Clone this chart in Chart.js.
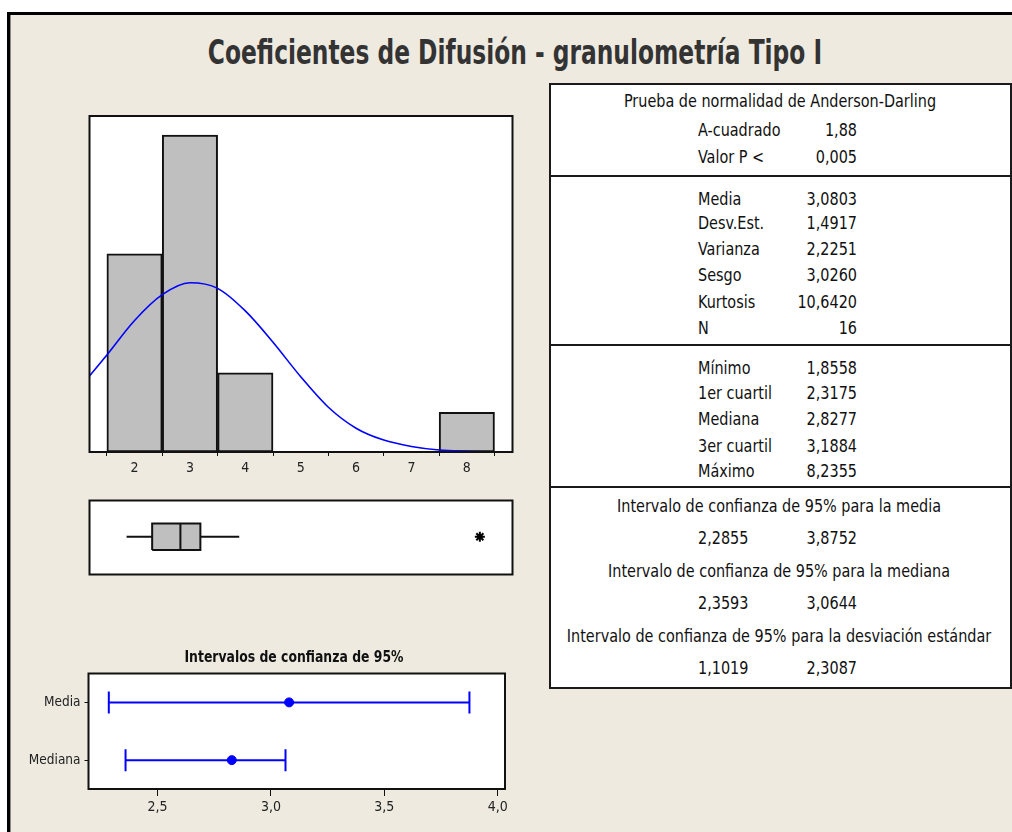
<!DOCTYPE html>
<html><head><meta charset="utf-8">
<script src="https://cdn.jsdelivr.net/npm/chart.js@4.4.1/dist/chart.umd.min.js"></script>
<style>
html,body{margin:0;padding:0;background:#fff;width:1012px;height:832px;overflow:hidden;}
#frame{position:absolute;left:7px;top:12px;width:1100px;height:900px;background:#EEEAE0;border-left:3px solid #000;border-top:3px solid #000;box-sizing:border-box;box-shadow:inset 1px 0 0 #8a8a8a;}
canvas{position:absolute;}
#table{position:absolute;left:549px;top:83px;width:463px;height:606px;background:#fff;border:2px solid #1a1a1a;box-sizing:border-box;}
.sep{position:absolute;left:549px;width:463px;height:2px;background:#1a1a1a;}
.t{position:absolute;width:0;height:0;}
.t span{position:absolute;left:0;top:0;white-space:nowrap;line-height:1;}
</style></head>
<body>
<div id="frame"></div>
<div id="table"></div>
<div class="sep" style="top:175px"></div>
<div class="sep" style="top:344px"></div>
<div class="sep" style="top:486px"></div>
<canvas id="hist" width="426" height="380" style="left:88px;top:115px"></canvas>
<canvas id="box" width="426" height="77" style="left:88px;top:499px"></canvas>
<canvas id="ci" width="520" height="192" style="left:0px;top:640px"></canvas>
<script>
// ---------- data ----------
const binCenters = [2, 3, 4, 5, 6, 7, 8];
const binCounts  = [5, 8, 2, 0, 0, 0, 1];
const histTicks  = [2, 3, 4, 5, 6, 7, 8];
const curveX = [1.186, 1.5, 2, 2.5, 3, 3.5, 4, 4.5, 5, 5.5, 6, 6.5, 7, 7.5, 8, 8.5, 8.7];
const curveY = [1.92, 2.45, 3.32, 3.97, 4.27, 4.13, 3.56, 2.77, 1.90, 1.13, 0.60, 0.30, 0.14, 0.05, 0.02, 0.005, 0.003];
const whiskerLow = 1.8558, q1 = 2.3175, median = 2.8277, q3 = 3.1884, whiskerHigh = 3.89;
const outliers = [8.2355];
const ciLabels   = ['Media', 'Mediana'];
const ciEstimate = [3.0803, 2.8277];
const ciLower    = [2.2855, 2.3593];
const ciUpper    = [3.8752, 3.0644];
const ciTicks    = [2.5, 3.0, 3.5, 4.0];

const titleText = 'Coeficientes de Difusión - granulometría Tipo I';
const ciTitle = 'Intervalos de confianza de 95%';
const adTitle = 'Prueba de normalidad de Anderson-Darling';
const adLabels = ['A-cuadrado', 'Valor P <'];
const adValues = ['1,88', '0,005'];
const momLabels = ['Media', 'Desv.Est.', 'Varianza', 'Sesgo', 'Kurtosis', 'N'];
const momValues = ['3,0803', '1,4917', '2,2251', '3,0260', '10,6420', '16'];
const quLabels = ['Mínimo', '1er cuartil', 'Mediana', '3er cuartil', 'Máximo'];
const quValues = ['1,8558', '2,3175', '2,8277', '3,1884', '8,2355'];
const ciTitles = ['Intervalo de confianza de 95% para la media',
                  'Intervalo de confianza de 95% para la mediana',
                  'Intervalo de confianza de 95% para la desviación estándar'];
const ciLows  = ['2,2855', '2,3593', '1,1019'];
const ciHighs = ['3,8752', '3,0644', '2,3087'];

// ---------- layout constants ----------
const FONT = '"DejaVu Sans Condensed","Liberation Sans Narrow","DejaVu Sans",sans-serif';
const X_MIN = 1.186, X_MAX = 8.825;
const BOX_LO = 0.33, BOX_HI = 0.69, BOX_MID = 0.51;

// ---------- text helpers ----------
function txt(str, x, y, align, font, color) {
  const d = document.createElement('div'); d.className = 't';
  d.style.left = x + 'px'; d.style.top = y + 'px';
  const s = document.createElement('span'); s.textContent = str;
  s.style.font = font; s.style.color = color || '#111';
  s.dataset.align = align;
  d.appendChild(s); document.body.appendChild(d);
  return s;
}
function scaleText(s, k) {
  const a = s.dataset.align;
  const tx = a === 'left' ? '0' : a === 'right' ? '-100%' : '-50%';
  s.style.transformOrigin = (a === 'left' ? 'left' : a === 'right' ? 'right' : 'center') + ' center';
  s.style.transform = 'translate(' + tx + ',-50%) scaleX(' + k + ')';
}

const title = txt(titleText, 515, 52, 'center', 'bold 33px ' + FONT, '#333');
scaleText(title, 614 / title.offsetWidth);
const cit = txt(ciTitle, 294, 657, 'center', 'bold 15px ' + FONT, '#111');
scaleText(cit, 219 / cit.offsetWidth);

const TF = '17px ' + FONT;
const tableSpans = [];
const head = txt(adTitle, 780, 101, 'center', TF); tableSpans.push(head);
const LX = 698, RX = 857;
const adY = [130, 157];
adLabels.forEach((l, i) => { tableSpans.push(txt(l, LX, adY[i], 'left', TF)); tableSpans.push(txt(adValues[i], RX, adY[i], 'right', TF)); });
const momY = [199, 223, 249, 275, 302, 328];
momLabels.forEach((l, i) => { tableSpans.push(txt(l, LX, momY[i], 'left', TF)); tableSpans.push(txt(momValues[i], RX, momY[i], 'right', TF)); });
const quY = [368, 393, 419, 446, 471];
quLabels.forEach((l, i) => { tableSpans.push(txt(l, LX, quY[i], 'left', TF)); tableSpans.push(txt(quValues[i], RX, quY[i], 'right', TF)); });
const ciTY = [506, 571, 636], ciVY = [538, 603, 668];
ciTitles.forEach((l, i) => {
  tableSpans.push(txt(l, 779, ciTY[i], 'center', TF));
  tableSpans.push(txt(ciLows[i], LX, ciVY[i], 'left', TF));
  tableSpans.push(txt(ciHighs[i], RX, ciVY[i], 'right', TF));
});
const tk = 312 / head.offsetWidth;
tableSpans.forEach(s => scaleText(s, tk));

// ---------- chart helpers ----------
const framePlugin = {
  id: 'frame',
  beforeDraw(c) { const a = c.chartArea, ctx = c.ctx; ctx.save(); ctx.fillStyle = '#fff'; ctx.fillRect(a.left, a.top, a.right - a.left, a.bottom - a.top); ctx.restore(); },
  afterDraw(c) { const a = c.chartArea, ctx = c.ctx; ctx.save(); ctx.strokeStyle = '#111'; ctx.lineWidth = 2; ctx.strokeRect(a.left, a.top, a.right - a.left, a.bottom - a.top); ctx.restore(); }
};
const base = { responsive: false, animation: false, devicePixelRatio: 1, events: [],
  plugins: { legend: { display: false }, tooltip: { enabled: false } } };

// ---------- histogram ----------
new Chart(document.getElementById('hist'), {
  type: 'bar',
  data: { datasets: [
    { type: 'line', data: curveX.map((x, i) => ({ x, y: curveY[i] })), borderColor: '#0000FF', borderWidth: 1.6,
      pointRadius: 0, cubicInterpolationMode: 'monotone', fill: false, order: 0 },
    { type: 'bar', data: binCenters.map((x, i) => ({ x, y: binCounts[i] ? binCounts[i] : null })),
      backgroundColor: '#BFBFBF', borderColor: '#111', borderWidth: 2, borderSkipped: false,
      barPercentage: 1, categoryPercentage: 1, grouped: false, order: 1 }
  ]},
  options: Object.assign({}, base, {
    layout: { autoPadding: false, padding: { left: 1.5, right: 1.5, top: 1, bottom: 0 } },
    scales: {
      x: { type: 'linear', min: X_MIN, max: X_MAX, offset: false,
        afterBuildTicks: s => { s.ticks = histTicks.map(v => ({ value: v })); },
        afterFit: s => { s.height = 43; },
        grid: { drawOnChartArea: false, drawTicks: true, tickLength: 4, color: '#111', lineWidth: 1 },
        border: { display: false },
        ticks: { font: { family: FONT, size: 14 }, color: '#222', padding: 4, maxRotation: 0, autoSkip: false } },
      y: { display: false, min: 0, max: 8.48 }
    }
  }),
  plugins: [framePlugin]
});

// ---------- boxplot ----------
const seg = (pts) => pts.map(p => ({ x: p[0], y: p[1] }));
new Chart(document.getElementById('box'), {
  type: 'scatter',
  data: { datasets: [
    { data: seg([[q1, BOX_LO], [q3, BOX_LO], [q3, BOX_HI], [q1, BOX_HI], [q1, BOX_LO]]), showLine: true, fill: 'shape',
      backgroundColor: '#BFBFBF', borderColor: '#111', borderWidth: 2, pointRadius: 0, order: 5 },
    { data: seg([[median, BOX_LO], [median, BOX_HI]]), showLine: true, borderColor: '#111', borderWidth: 2, pointRadius: 0, order: 1 },
    { data: seg([[whiskerLow, BOX_MID], [q1, BOX_MID]]), showLine: true, borderColor: '#111', borderWidth: 2, pointRadius: 0, order: 1 },
    { data: seg([[q3, BOX_MID], [whiskerHigh, BOX_MID]]), showLine: true, borderColor: '#111', borderWidth: 2, pointRadius: 0, order: 1 },
    { data: outliers.map(x => ({ x, y: BOX_MID })), pointStyle: 'star', pointRadius: 5, pointBorderWidth: 2,
      pointBorderColor: '#000', pointBackgroundColor: '#000', order: 1 }
  ]},
  options: Object.assign({}, base, {
    layout: { autoPadding: false, padding: { left: 1.5, right: 1.5, top: 1.5, bottom: 1.5 } },
    scales: { x: { display: false, min: X_MIN, max: X_MAX }, y: { display: false, min: 0, max: 1 } }
  }),
  plugins: [framePlugin]
});

// ---------- confidence intervals ----------
const ciSets = [];
ciLabels.forEach((l, i) => {
  ciSets.push({ data: [{ x: ciLower[i], y: l }, { x: ciUpper[i], y: l }], showLine: true,
    borderColor: '#0000FF', borderWidth: 2, pointStyle: 'line', pointRotation: 90, pointRadius: 11,
    pointBorderWidth: 2, pointBorderColor: '#0000FF', order: 2 });
});
ciSets.push({ data: ciLabels.map((l, i) => ({ x: ciEstimate[i], y: l })), pointStyle: 'circle', pointRadius: 4.5,
  pointBackgroundColor: '#0000FF', pointBorderColor: '#0000FF', pointBorderWidth: 1, order: 0 });
new Chart(document.getElementById('ci'), {
  type: 'scatter',
  data: { datasets: ciSets },
  options: Object.assign({}, base, {
    layout: { autoPadding: false, padding: { left: 0, right: 15, top: 33.5, bottom: 0 } },
    scales: {
      x: { type: 'linear', min: 2.196, max: 4.032,
        afterBuildTicks: s => { s.ticks = ciTicks.map(v => ({ value: v })); },
        afterFit: s => { s.height = 43; },
        grid: { drawOnChartArea: false, tickLength: 7, color: '#111' }, border: { display: false },
        ticks: { font: { family: FONT, size: 14 }, color: '#222', padding: 3, maxRotation: 0, autoSkip: false,
          callback: v => Number(v).toFixed(1).replace('.', ',') } },
      y: { type: 'category', labels: ciLabels, offset: true,
        afterFit: s => { s.width = 88.5; },
        grid: { drawOnChartArea: false, offset: false, tickLength: 4, color: '#111' }, border: { display: false },
        ticks: { font: { family: FONT, size: 13.5 }, color: '#222', padding: 4 } }
    }
  }),
  plugins: [framePlugin]
});
</script>
</body></html>
